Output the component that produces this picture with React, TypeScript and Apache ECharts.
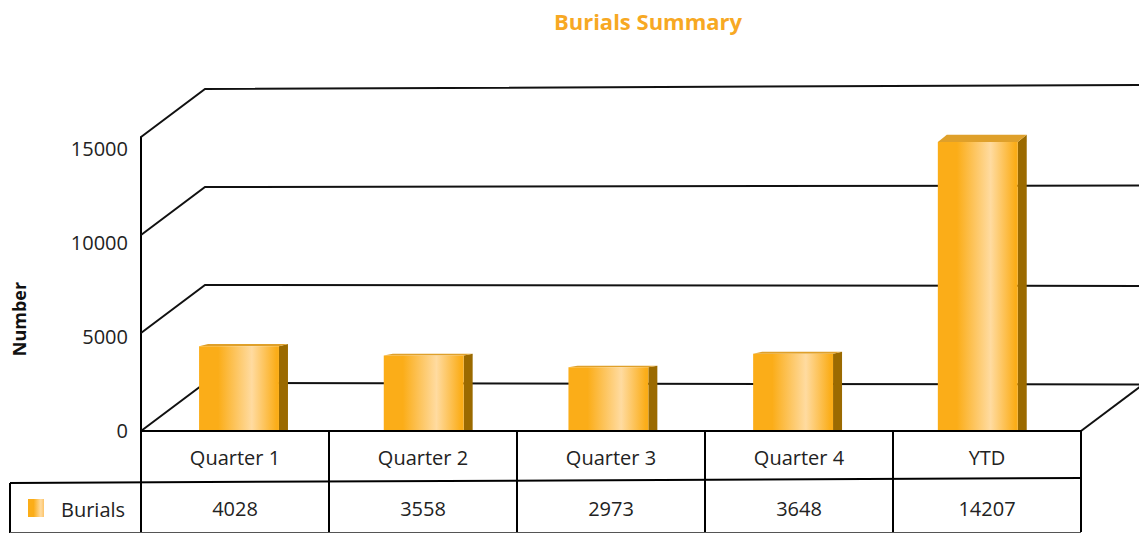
import React, { useEffect, useRef } from "react";
import * as echarts from "echarts";

const categories = ["Quarter 1", "Quarter 2", "Quarter 3", "Quarter 4", "YTD"];
const burials = [4028, 3558, 2973, 3648, 14207];
const tickValues = [0, 5000, 10000, 15000];
const seriesName = "Burials";
const titleText = "Burials Summary";
const axisTitle = "Number";

const W = 1139;
const H = 533;
const FONT = '"Open Sans", "Noto Sans", sans-serif';
const DEPTH_X = 64;
const DEPTH_Y = -48;
const ORANGE = "#FBAD18";
const LIGHT = "#FFDBA0";
const TEXT = "#222222";
const FS = 20;

function barGradient() {
  return new echarts.graphic.LinearGradient(0, 0, 1, 0, [
    { offset: 0, color: ORANGE },
    { offset: 0.24, color: ORANGE },
    { offset: 0.66, color: LIGHT },
    { offset: 0.97, color: ORANGE },
    { offset: 1, color: ORANGE },
  ]);
}

export default function App() {
  const ref = useRef<HTMLDivElement>(null);

  useEffect(() => {
    document.body.style.margin = "0";
    if (!ref.current) return;
    const chart = echarts.init(ref.current, undefined, { renderer: "svg" });

    const option: any = {
      animation: false,
      backgroundColor: "#ffffff",
      textStyle: { fontFamily: FONT },
      grid: [
        { left: 141, right: 58, top: 137, bottom: 102 },
        { left: 141, right: 58, top: 148, bottom: 103 },
      ],
      xAxis: [
        {
          type: "category",
          gridIndex: 0,
          data: categories,
          z: 5,
          axisLine: { show: true, onZero: false, lineStyle: { color: "#000", width: 2 } },
          axisTick: {
            show: true,
            interval: 0,
            length: 101,
            lineStyle: { color: "#000", width: 2 },
          },
          axisLabel: {
            interval: 0,
            margin: 16,
            fontSize: FS,
            color: TEXT,
            fontFamily: FONT,
          },
          splitLine: { show: false },
        },
        { type: "category", gridIndex: 1, data: categories, show: false },
      ],
      yAxis: [
        {
          type: "value",
          gridIndex: 0,
          min: 0,
          max: 15000,
          interval: 5000,
          axisLine: { show: true, lineStyle: { color: "#000", width: 2 } },
          axisTick: { show: false },
          axisLabel: { show: false },
          splitLine: { show: false },
        },
        {
          type: "value",
          gridIndex: 0,
          min: -200,
          max: 14450,
          show: false,
          splitLine: { show: false },
        },
        {
          type: "value",
          gridIndex: 1,
          min: 0,
          max: 15000,
          interval: 5000,
          axisLine: { show: false },
          axisTick: { show: false },
          splitLine: { show: false },
          axisLabel: {
            margin: 13,
            fontSize: FS,
            color: TEXT,
            fontFamily: FONT,
            formatter: (v: number) => String(v),
          },
        },
      ],
      series: [
        {
          type: "custom",
          name: "frame",
          xAxisIndex: 0,
          yAxisIndex: 0,
          z: 1,
          silent: true,
          clip: false,
          data: tickValues.map((v) => [0, v]),
          renderItem: (params: any, api: any) => {
            const v = api.value(1);
            const cs = params.coordSys;
            const y = api.coord([0, v])[1];
            const x0 = cs.x;
            const bx = x0 + DEPTH_X;
            const by = y + DEPTH_Y;
            const endY = by + Math.max(-4, Math.min(1.5, (by - 250) * 0.025));
            const children: any[] = [
              {
                type: "polyline",
                shape: { points: [[x0, y], [bx, by], [api.getWidth(), endY]] },
                style: { stroke: "#111", lineWidth: 2, fill: null },
              },
            ];
            if (v === 0) {
              const rx = cs.x + cs.width;
              children.push({
                type: "line",
                shape: { x1: rx, y1: y, x2: rx + DEPTH_X, y2: y + DEPTH_Y },
                style: { stroke: "#111", lineWidth: 2 },
              });
            }
            return { type: "group", children };
          },
        },
        {
          type: "custom",
          name: seriesName,
          xAxisIndex: 0,
          yAxisIndex: 1,
          z: 3,
          clip: false,
          data: burials.map((v, i) => [i, v]),
          renderItem: (params: any, api: any) => {
            const i = api.value(0);
            const v = api.value(1);
            const cs = params.coordSys;
            const p = api.coord([i, v]);
            const mid = cs.x + cs.width / 2;
            const cx = p[0] - 2.6 - (p[0] - mid) * 0.0176;
            const ty = p[1];
            const bw = api.size([1, 0])[0] * 0.425;
            const bottom = cs.y + cs.height;
            const h = bottom - ty;
            const dy = Math.max(1.5, h * 0.025);
            const sx = 9;
            const x0 = cx - bw / 2;
            const x1 = cx + bw / 2;
            return {
              type: "group",
              children: [
                {
                  type: "polygon",
                  shape: { points: [[x1, ty], [x1 + sx, ty - dy], [x1 + sx, bottom - 1], [x1, bottom]] },
                  style: { fill: "#9B6A00" },
                },
                {
                  type: "polygon",
                  shape: { points: [[x0, ty], [x0 + sx, ty - dy], [x1 + sx, ty - dy], [x1, ty]] },
                  style: { fill: "#DFA02A" },
                },
                {
                  type: "rect",
                  shape: { x: x0, y: ty, width: bw, height: h },
                  style: { fill: barGradient() },
                },
              ],
            };
          },
        },
        {
          type: "custom",
          name: "table",
          xAxisIndex: 0,
          yAxisIndex: 0,
          z: 4,
          silent: true,
          clip: false,
          data: burials.map((v, i) => [i, v]),
          renderItem: (params: any, api: any) => {
            const i = api.value(0);
            const v = api.value(1);
            const cs = params.coordSys;
            const x = api.coord([i, 0])[0];
            const y = cs.y + cs.height + 77;
            return {
              type: "text",
              x,
              y,
              style: {
                text: String(v),
                fill: TEXT,
                fontSize: FS,
                fontFamily: FONT,
                align: "center",
                verticalAlign: "middle",
                textAlign: "center",
                textVerticalAlign: "middle",
              },
            };
          },
        },
      ],
      graphic: [
        {
          type: "text",
          x: 648,
          y: 21,
          style: {
            text: titleText,
            fill: "#F7A823",
            fontSize: 22,
            fontWeight: "bold",
            fontFamily: FONT,
            align: "center",
            verticalAlign: "middle",
            textAlign: "center",
            textVerticalAlign: "middle",
          },
        },
        {
          type: "text",
          x: 19,
          y: 319,
          rotation: Math.PI / 2,
          style: {
            text: axisTitle,
            fill: "#111",
            fontSize: 18,
            fontWeight: "bold",
            fontFamily: FONT,
            align: "center",
            verticalAlign: "middle",
            textAlign: "center",
            textVerticalAlign: "middle",
          },
        },
        {
          type: "line",
          shape: { x1: 10, y1: 483, x2: 1081, y2: 478 },
          style: { stroke: "#000", lineWidth: 2 },
        },
        {
          type: "line",
          shape: { x1: 10, y1: 483, x2: 10, y2: 533 },
          style: { stroke: "#000", lineWidth: 2 },
        },
        {
          type: "line",
          shape: { x1: 10, y1: 532.5, x2: 1081, y2: 532.5 },
          style: { stroke: "#555", lineWidth: 1 },
        },
        {
          type: "rect",
          shape: { x: 28, y: 499, width: 16, height: 18 },
          style: {
            fill: new echarts.graphic.LinearGradient(0, 0, 1, 0, [
              { offset: 0, color: ORANGE },
              { offset: 0.35, color: ORANGE },
              { offset: 0.8, color: LIGHT },
              { offset: 1, color: "#FCC46A" },
            ]),
          },
        },
        {
          type: "text",
          x: 61,
          y: 509,
          style: {
            text: seriesName,
            fill: TEXT,
            fontSize: FS,
            fontFamily: FONT,
            align: "left",
            verticalAlign: "middle",
            textAlign: "left",
            textVerticalAlign: "middle",
          },
        },
      ],
    };

    chart.setOption(option);
    return () => {
      chart.dispose();
    };
  }, []);

  return <div ref={ref} style={{ width: W, height: H }} />;
}
